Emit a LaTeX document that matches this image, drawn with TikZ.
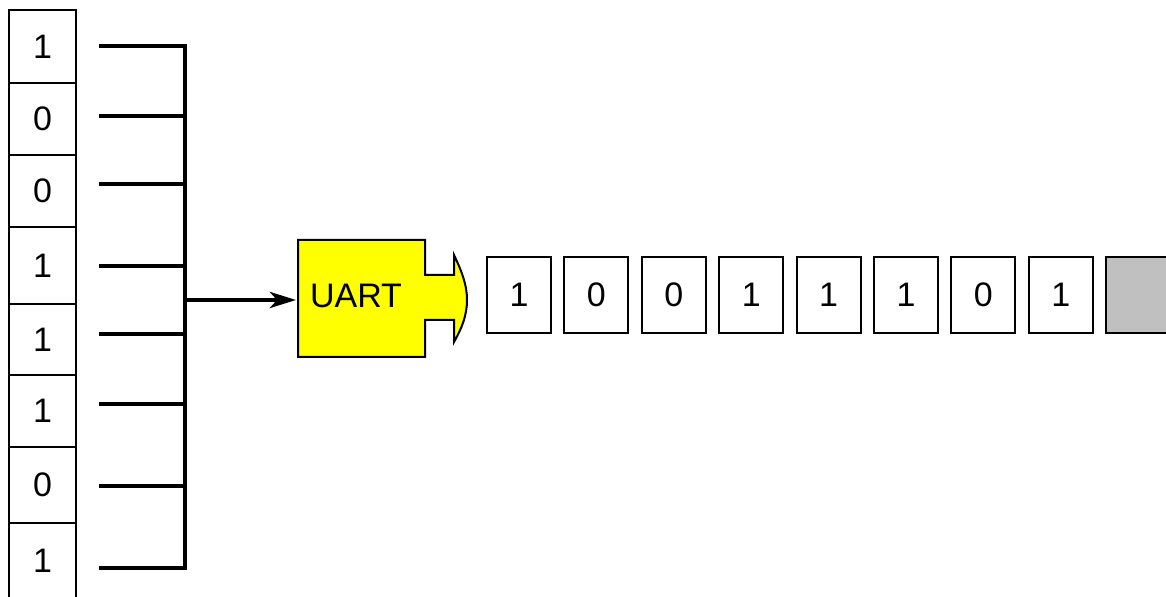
\documentclass[tikz,border=0pt]{standalone}
\usepackage{fontspec}
\setmainfont{Liberation Sans}
\usetikzlibrary{arrows.meta}
\definecolor{uartyellow}{RGB}{255,255,0}
\definecolor{idlegray}{RGB}{192,192,192}
\tikzset{
  bitfont/.style={font=\fontsize{17}{20}\selectfont},
  colcell/.style={draw=black, line width=1pt, minimum width=33.5pt, inner sep=0pt, anchor=center, bitfont},
  outbit/.style={draw=black, line width=1pt, minimum width=32pt, minimum height=38pt, inner sep=0pt, bitfont},
  busline/.style={line width=1.8pt, line cap=rect},
  feedarrow/.style={line width=2.2pt, -{Stealth[length=13pt,width=8pt,inset=3.5pt]}},
  uartshape/.style={draw=black, line width=1pt, fill=uartyellow}
}
\begin{document}
\begin{tikzpicture}[x=0.5pt,y=-0.5pt]
\useasboundingbox (0,0) rectangle (1166,597);
\clip (0,0) rectangle (1166,597);
% parallel register column
\foreach \i/\t/\b/\d/\ly in {1/10/83/1/46, 2/83/155/0/116, 3/155/227/0/184, 4/227/304/1/266,
                             5/304/375/1/334, 6/375/447/1/404, 7/447/523/0/486, 8/523/599/1/568}{
  \pgfmathsetmacro{\mid}{(\t+\b)/2}
  \pgfmathsetmacro{\hh}{(\b-\t)*0.5}
  \node[colcell, minimum height=\hh pt] (c\i) at (42.5,\mid) {\d};
  \coordinate (l\i) at (101,\ly);
  \coordinate (b\i) at (185,\ly);
  \draw[busline] (l\i) -- (b\i);
}
\draw[busline] (b1) -- (b8);
% UART block
\path[uartshape] (298,240) -- (425,240) -- (425,275) -- (454,275) -- (454,255)
  .. controls (462,272) and (467,285) .. (467,300)
  .. controls (467,315) and (462,328) .. (454,342)
  -- (454,320) -- (425,320) -- (425,357) -- (298,357) -- cycle;
\node[bitfont, inner sep=0pt] (uart) at (356,296) {UART};
\coordinate (busout) at (185,300);
\coordinate (uartin) at (296,300);
\draw[feedarrow] (busout) -- (uartin);
% serial output bits
\foreach \i/\d in {0/1, 1/0, 2/0, 3/1, 4/1, 5/1, 6/0, 7/1}{
  \node[outbit] (s\i) at ({519+77.4*\i},295) {\d};
}
\node[outbit, fill=idlegray] (idle) at ({519+77.4*8},295) {};
\end{tikzpicture}
\end{document}
